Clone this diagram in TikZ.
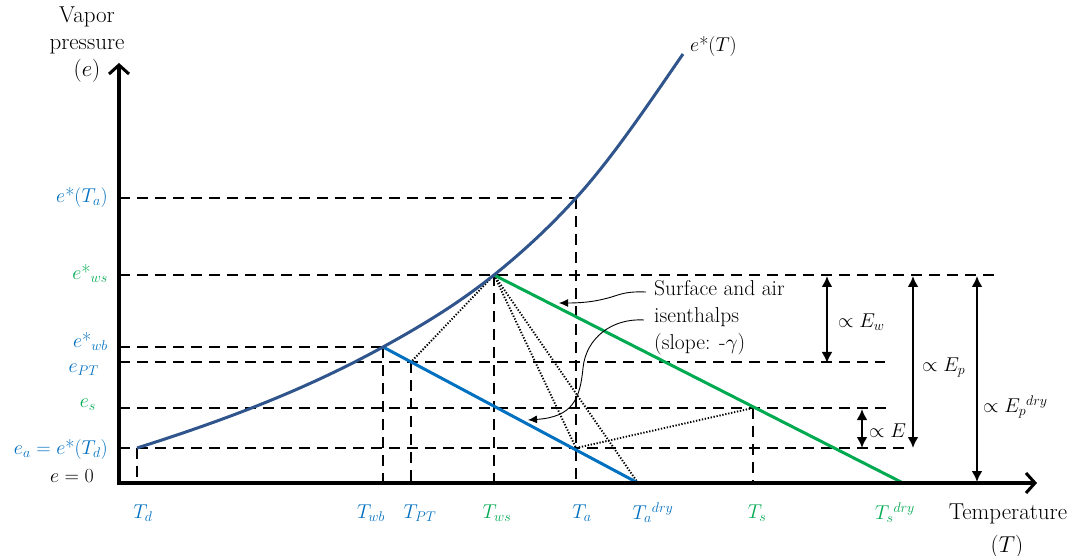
\RequirePackage{fix-cm}
\documentclass[tikz,border=0pt]{standalone}
\usetikzlibrary{arrows.meta}
\definecolor{curveblue}{RGB}{47,85,140}
\definecolor{lblue}{RGB}{0,112,192}
\definecolor{lgreen}{RGB}{0,170,80}
\newcommand{\st}{\mbox{*}}
\begin{document}
\begin{tikzpicture}[x=1pt,y=-1pt,
  dashline/.style={line width=2.1pt, dash pattern=on 11pt off 7pt},
  dotline/.style={line width=1.9pt, dash pattern=on 1.3pt off 1.7pt},
  axisline/.style={line width=3.5pt, -{Straight Barb[length=9pt,width=20pt,line width=3pt]}},
  dimarrow/.style={line width=2.2pt, {Latex[length=11pt,width=11pt]}-{Latex[length=11pt,width=11pt]}},
  isen/.style={line width=3pt},
  callout/.style={line width=0.9pt, -{Latex[length=9pt,width=8pt]}},
  lbl/.style={font=\fontsize{20}{24}\selectfont, inner sep=0pt},
  txt/.style={font=\fontsize{23}{27}\selectfont, inner sep=0pt, align=center},
  notetxt/.style={font=\fontsize{21.5}{27}\selectfont, inner sep=0pt, align=left},
]
\useasboundingbox (0,0) rectangle (1088,556);
% axes
\coordinate (O) at (119,483);
\coordinate (ytip) at (119,63);
\coordinate (xstart) at (117,483);
\coordinate (xtip) at (1037,483);
% points on e*(T)
\coordinate (pd) at (137,448);
\coordinate (pwb) at (383,347);
\coordinate (pws) at (494,275);
\coordinate (pa) at (576,198);
\coordinate (pend) at (683,54);
% other points
\coordinate (ppt) at (411,362);
\coordinate (pair) at (576,448);
\coordinate (pts) at (753,408);
\coordinate (tadry) at (638,483);
\coordinate (tsdry) at (903,483);
% axis feet
\coordinate (fd) at (137,483);
\coordinate (fwb) at (383,483);
\coordinate (fpt) at (411,483);
\coordinate (fws) at (494,483);
\coordinate (fa) at (576,483);
\coordinate (fs) at (753,483);
% y-axis starts
\coordinate (ya) at (119,198);
\coordinate (yws) at (119,275);
\coordinate (ywb) at (119,347);
\coordinate (ypt) at (119,362);
\coordinate (ys) at (119,408);
\coordinate (yea) at (119,448);
% right ends
\coordinate (rws) at (1001,275);
\coordinate (rpt) at (885,362);
\coordinate (rs) at (888,408);
\coordinate (rea) at (910,448);

% dashed guide lines
\draw[dashline] (ya) -- (pa);
\draw[dashline] (yws) -- (rws);
\draw[dashline] (ywb) -- (pwb);
\draw[dashline] (ypt) -- (rpt);
\draw[dashline] (ys) -- (rs);
\draw[dashline] (yea) -- (rea);
\draw[dashline] (pd) -- (fd);
\draw[dashline] (pwb) -- (fwb);
\draw[dashline] (ppt) -- (fpt);
\draw[dashline] (pws) -- (fws);
\draw[dashline] (pa) -- (fa);
\draw[dashline] (pts) -- (fs);

% dotted lines
\draw[dotline] (pws) -- (ppt);
\draw[dotline] (pws) -- (pair);
\draw[dotline] (pws) -- (tadry);
\draw[dotline] (pair) -- (pts);

% isenthalps
\draw[isen, lblue] (pwb) -- (tadry);
\draw[isen, lgreen] (pws) -- (tsdry);

% saturation curve (Hermite segments)
\draw[line width=3pt, curveblue]
  (pd) .. controls (219,422) and (301,392.1) .. (pwb)
       .. controls (420,326.6) and (457,304.6) .. (pws)
       .. controls (521.3,253.1) and (548.7,228.1) .. (pa)
       .. controls (611.7,158.8) and (647.3,105.7) .. (pend);

% axes
\draw[axisline] (O) -- (ytip);
\draw[axisline] (xstart) -- (xtip);

% dimension arrows
\coordinate (ew1) at (827,276); \coordinate (ew2) at (827,363);
\coordinate (ep1) at (913,276); \coordinate (ep2) at (913,448);
\coordinate (e1) at (862,409);  \coordinate (e2) at (862,448);
\coordinate (ed1) at (977,276); \coordinate (ed2) at (977,482);
\draw[dimarrow] (ew1) -- (ew2);
\draw[dimarrow] (ep1) -- (ep2);
\draw[dimarrow] (e1) -- (e2);
\draw[dimarrow] (ed1) -- (ed2);
\node[lbl, anchor=west] (lew) at (838,322) {$\propto E_w$};
\node[lbl, anchor=west] (lep) at (922,368) {$\propto E_p$};
\node[lbl, anchor=west] (le) at (869,431) {$\propto E$};
\node[lbl, anchor=west] (led) at (983,407) {$\propto E_p{}^{dry}$};

% annotation
\node[notetxt, anchor=west] (note) at (654,318) {Surface and air\\isenthalps\\(slope: -$\gamma$)};
\coordinate (n1) at (646,292);
\coordinate (n2) at (644,320);
\coordinate (t1) at (559,303);
\coordinate (t2) at (528,420);
\draw[callout] (n1) .. controls (622,291) and (618,296) .. (604,299) .. controls (592,302) and (580,303) .. (t1);
\draw[callout] (n2) .. controls (612,318) and (586,338) .. (583,368) .. controls (580,400) and (572,417) .. (t2);

% axis titles
\node[txt] (vap) at (87,45) {Vapor\\pressure\\$(e)$};
\node[txt] (temp) at (1008,514) {Temperature};
\node[txt] (tT) at (1007,547) {$(T)$};
\node[lbl, anchor=west] (estar) at (690,47) {$e\st(T)$};

% y labels
\node[lbl, anchor=east, lblue] (la) at (108,198) {$e\st(T_a)$};
\node[lbl, anchor=east, lgreen] (lws) at (108,274) {$e\st_{ws}$};
\node[lbl, anchor=east, lblue] (lwb) at (108,342) {$e\st_{wb}$};
\node[lbl, anchor=east, lblue] (lpt) at (99,370) {$e_{PT}$};
\node[lbl, anchor=east, lgreen] (ls) at (96,405) {$e_s$};
\node[lbl, anchor=east, lblue] (lea) at (108,449) {$e_a = e\st(T_d)$};
\node[lbl, anchor=east] (l0) at (94,476) {$e = 0$};

% x labels
\node[lbl, lblue] (xd) at (143,513) {$T_d$};
\node[lbl, lblue] (xwb) at (371,513) {$T_{wb}$};
\node[lbl, lblue] (xpt) at (420,513) {$T_{PT}$};
\node[lbl, lgreen] (xws) at (497,513) {$T_{ws}$};
\node[lbl, lblue] (xa) at (582,513) {$T_a$};
\node[lbl, lblue] (xad) at (653,513) {$T_a{}^{dry}$};
\node[lbl, lgreen] (xs) at (757,513) {$T_s$};
\node[lbl, lgreen] (xsd) at (895,513) {$T_s{}^{dry}$};
\end{tikzpicture}
\end{document}
